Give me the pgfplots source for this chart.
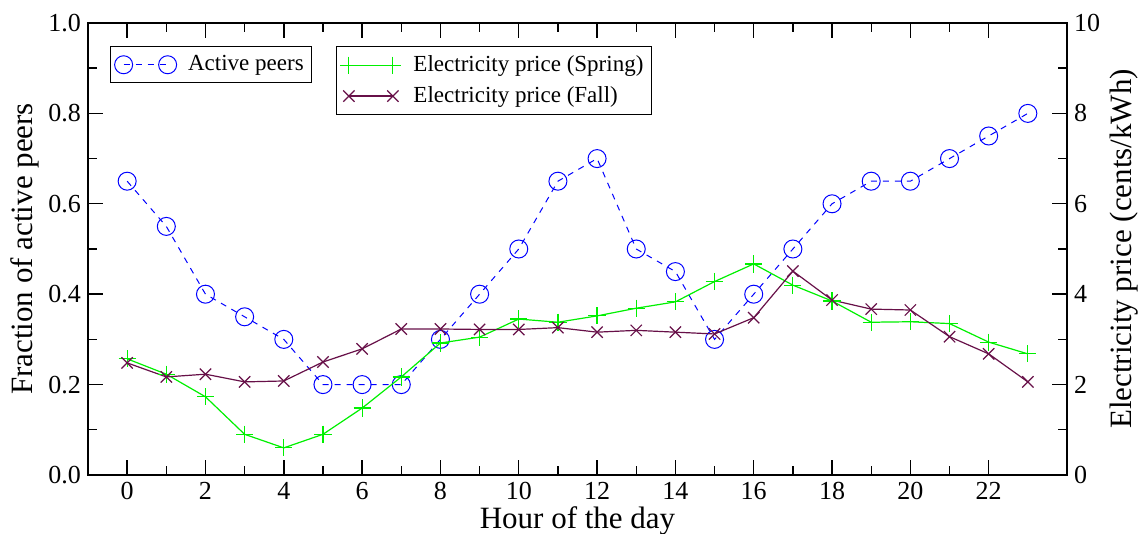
\documentclass[border=0pt]{standalone}
\usepackage{fontspec}
\setmainfont{Liberation Serif}
\usepackage{pgfplots}
\pgfplotsset{compat=1.18}
\definecolor{fallc}{RGB}{103,16,72}
\definecolor{springc}{RGB}{0,240,0}
\begin{document}
\begin{tikzpicture}
\pgfplotsset{
  every axis/.append style={
    scale only axis, width=489.5pt, height=226pt,
    xmin=-1, xmax=24,
    tick align=inside,
    major tick length=7.5pt, minor tick length=4.5pt,
    /pgf/number format/assume math mode=true,
    tick label style={font=\rmfamily\fontsize{13}{14}\selectfont},
    xticklabel style={font=\rmfamily\fontsize{13}{14}\selectfont},
    yticklabel style={font=\rmfamily\fontsize{13}{14}\selectfont},
    label style={font=\rmfamily\fontsize{15.5}{17}\selectfont},
    axis line style={line width=0.9pt},
    every tick/.style={line width=0.7pt, black},
    legend style={font=\rmfamily\fontsize{11.5}{14}\selectfont, draw=black, line width=0.6pt,
      inner xsep=2pt, inner ysep=2.5pt, row sep=2pt},
    legend cell align=left,
    legend image code/.code={\path (-4pt,0pt) (30pt,0pt); \draw[#1] plot coordinates {(0pt,0pt) (22pt,0pt)};},
  },
}
\begin{axis}[
  name=ax1,
  ymin=0, ymax=1,
  ytick={0,0.2,0.4,0.6,0.8,1.0},
  yticklabels={0.0,0.2,0.4,0.6,0.8,1.0},
  minor y tick num=1,
  xtick={0,2,4,6,8,10,12,14,16,18,20,22},
  xticklabels={0,2,4,6,8,10,12,14,16,18,20,22},
  minor x tick num=1,
  ytick pos=left,
  xlabel={Hour of the day},
  ylabel={Fraction of active peers},
  xlabel style={yshift=3.5pt},
  ylabel style={yshift=-2pt},
  legend style={at={(0.0225,0.949)}, anchor=north west},
]
\addplot[blue, dashed, line width=0.5pt, mark=o, mark size=4.5pt, mark options={solid, line width=0.5pt}] coordinates {
(0,0.65) (1,0.55) (2,0.4) (3,0.35) (4,0.3) (5,0.2) (6,0.2) (7,0.2) (8,0.3) (9,0.4) (10,0.5) (11,0.65)
(12,0.7) (13,0.5) (14,0.45) (15,0.3) (16,0.4) (17,0.5) (18,0.6) (19,0.65) (20,0.65) (21,0.7) (22,0.75) (23,0.8)};
\addlegendentry{Active peers}
\end{axis}
\begin{axis}[
  ymin=0, ymax=10,
  ytick={0,2,4,6,8,10},
  yticklabels={0,2,4,6,8,10},
  minor y tick num=1,
  axis x line=none,
  axis y line*=right,
  ylabel={Electricity price (cents/kWh)},
  ylabel style={yshift=2pt},
  legend style={at={(0.253,0.949)}, anchor=north west},
]
\addplot[springc, line width=0.6pt, mark=+, mark size=4.3pt] coordinates {
(0,2.57) (1,2.23) (2,1.73) (3,0.9) (4,0.6) (5,0.9) (6,1.48) (7,2.17) (8,2.92) (9,3.05) (10,3.45) (11,3.38)
(12,3.52) (13,3.69) (14,3.83) (15,4.28) (16,4.67) (17,4.2) (18,3.85) (19,3.38) (20,3.39) (21,3.35) (22,2.94) (23,2.68)};
\addlegendentry{Electricity price (Spring)}
\addplot[fallc, line width=0.6pt, mark=x, mark size=4pt] coordinates {
(0,2.48) (1,2.17) (2,2.23) (3,2.06) (4,2.08) (5,2.5) (6,2.79) (7,3.23) (8,3.23) (9,3.22) (10,3.22) (11,3.26)
(12,3.16) (13,3.2) (14,3.16) (15,3.12) (16,3.48) (17,4.51) (18,3.87) (19,3.67) (20,3.65) (21,3.06) (22,2.68) (23,2.06)};
\addlegendentry{Electricity price (Fall)}
\end{axis}
\pgfresetboundingbox
\path ([xshift=-44pt,yshift=-29.5pt]ax1.south west) rectangle ([xshift=36pt,yshift=11.5pt]ax1.north east);
\end{tikzpicture}
\end{document}
